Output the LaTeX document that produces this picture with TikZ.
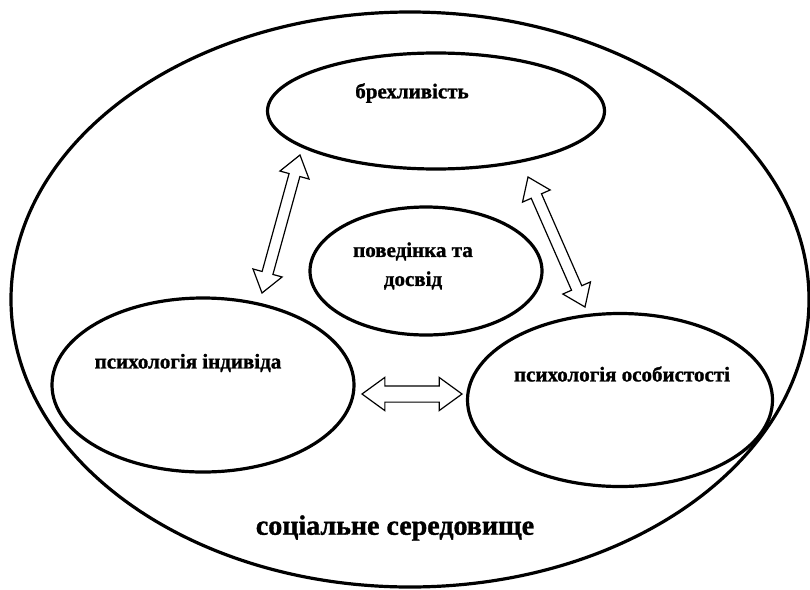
\documentclass[tikz,border=0pt]{standalone}
\usepackage{fontspec}
\setmainfont[BoldFeatures={FakeBold=1.2}]{Liberation Serif}
\usepackage{tikz}
\usetikzlibrary{shapes.geometric,shapes.arrows,calc}
\tikzset{
  zone/.style={ellipse,draw,line width=3.2pt,inner sep=0pt},
  lbl/.style={font=\bfseries\fontsize{21}{29}\selectfont,align=center,inner sep=0pt},
  blockarrow/.style={double arrow,draw,line width=1.2pt,fill=white,inner sep=0pt,
    double arrow tip angle=72,minimum height=#1}
}

\begin{document}
\begin{tikzpicture}[x=1pt,y=-1pt]
\useasboundingbox (0,0) rectangle (810,589);
\node[zone,minimum width=798pt,minimum height=575pt] (env) at (410,299.5) {};
\node[zone,minimum width=337pt,minimum height=116pt] (lie) at (436,111) {};
\node[zone,minimum width=232pt,minimum height=128pt] (exp) at (426,271) {};
\node[zone,minimum width=302pt,minimum height=174pt] (ind) at (203,385) {};
\node[zone,minimum width=305pt,minimum height=173pt] (pers) at (620,400) {};
\node[lbl] (lietxt) at (412,93) {брехливість};
\node[lbl] (exptxt) at (413,266) {поведінка та\\досвід};
\node[lbl] (indtxt) at (188,363) {психологія індивіда};
\node[lbl] (perstxt) at (622,374) {психологія особистості};
\node[lbl,font=\bfseries\fontsize{28}{32}\selectfont] (envtxt) at (395,528) {соціальне середовище};
% arrow ends
\coordinate (l1) at (300,155); \coordinate (l2) at (262,293);
\coordinate (r1) at (528,177); \coordinate (r2) at (585,307);
\coordinate (h1) at (362,394); \coordinate (h2) at (462,394);
\foreach \a/\b/\s/\e in {l1/l2/5/9.5,r1/r2/5/9.5,h1/h2/7.5/8.5}
  \path let \p1=($(\b)-(\a)$), \n1={veclen(\x1,\y1)} in (\a) -- (\b)
    node[midway,sloped,blockarrow=\n1,inner ysep=\s pt,double arrow head extend=\e pt] (\a\b) {};
\end{tikzpicture}
\end{document}
